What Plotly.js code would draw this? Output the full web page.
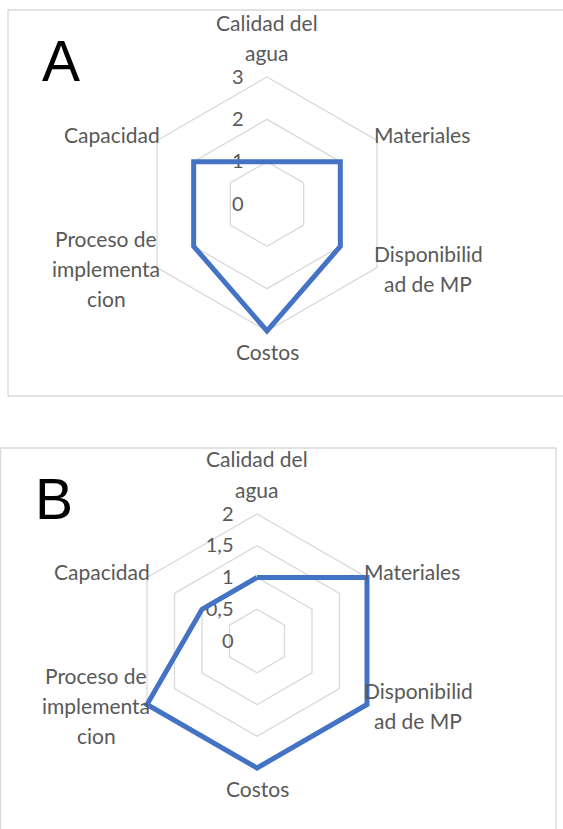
<!DOCTYPE html>
<html>
<head>
<meta charset="utf-8">
<script src="https://cdn.plot.ly/plotly-3.0.1.min.js"></script>
<style>html,body{margin:0;padding:0;background:#fff;}#chart{width:563px;height:829px;}</style>
</head>
<body>
<div id="chart"></div>
<script>
// ---- data ----
const categories = ['Calidad del agua', 'Materiales', 'Disponibilidad de MP', 'Costos', 'Proceso de implementacion', 'Capacidad'];
const categoryLines = [['Calidad del', 'agua'], ['Materiales'], ['Disponibilid', 'ad de MP'], ['Costos'], ['Proceso de', 'implementa', 'cion'], ['Capacidad']];
const valuesA = [1, 2, 2, 3, 2, 2];
const valuesB = [1, 2, 2, 2, 2, 1];
const radialTicksA = [0, 1, 2, 3];
const radialTicksB = [0, 0.5, 1, 1.5, 2];
const panelLabels = ['A', 'B'];

// ---- layout helpers ----
const W = 563, H = 829;
const px = x => x / W;
const py = y => 1 - y / H;
const TXT = '#595959', GRID = '#d9d9d9', BLUE = '#4472c4';
const FONT = 'Lato, "Open Sans", sans-serif';
const CAT_SIZE = 21, LINE_H = 30;
const PAD = 1.06; // extra radial room so the outer line is not clipped

const ctx = document.createElement('canvas').getContext('2d');
ctx.font = CAT_SIZE + 'px Lato';
const textW = s => ctx.measureText(s).width;

function closed(arr) { return arr.concat([arr[0]]); }

const traces = [
  {type: 'scatterpolar', subplot: 'polar', r: closed(valuesA), theta: closed(categories),
   mode: 'lines', line: {color: BLUE, width: 5}, cliponaxis: false, hoverinfo: 'skip'},
  {type: 'scatterpolar', subplot: 'polar2', r: closed(valuesB), theta: closed(categories),
   mode: 'lines', line: {color: BLUE, width: 5}, cliponaxis: false, hoverinfo: 'skip'}
];

function polarCfg(cx, cy, rad, rmax, ticks) {
  const R = rad * PAD;
  return {
    domain: {x: [px(cx - R), px(cx + R)], y: [py(cy + R), py(cy - R)]},
    gridshape: 'linear',
    bgcolor: 'rgba(0,0,0,0)',
    angularaxis: {
      type: 'category', categoryorder: 'array', categoryarray: categories,
      rotation: 90, direction: 'clockwise', layer: 'below traces',
      showgrid: false, showline: false,
      ticks: '', showticklabels: false
    },
    radialaxis: {
      range: [0, rmax * PAD], tickmode: 'array', tickvals: ticks, layer: 'below traces',
      angle: 90, side: 'counterclockwise', tickangle: 90,
      showline: false, gridcolor: GRID, gridwidth: 1.3,
      ticks: 'outside', ticklen: 16, tickcolor: 'rgba(0,0,0,0)',
      tickfont: {family: FONT, size: 20, color: TXT}
    }
  };
}

// category labels placed around each hexagon vertex (Excel-style centred wrapped text)
function categoryAnnotations(cx, cy, rad) {
  const out = [];
  categories.forEach((c, i) => {
    const ang = (90 - i * 60) * Math.PI / 180;
    const vx = cx + rad * Math.cos(ang), vy = cy - rad * Math.sin(ang);
    const lines = categoryLines[i];
    const n = lines.length;
    const maxW = Math.max(...lines.map(textW));
    let bx, by; // block centre
    if (Math.abs(Math.cos(ang)) < 1e-6) {
      bx = vx;
      by = vy > cy ? vy + 12 + n * LINE_H / 2 - 7 : vy - 10 - n * LINE_H / 2;
    } else {
      bx = vx > cx ? vx - 3 + maxW / 2 : vx + 3 - maxW / 2;
      by = vy < cy ? vy - 6 : vy + 1;
    }
    lines.forEach((t, k) => {
      out.push({text: t, xref: 'paper', yref: 'paper', x: px(bx), y: py(by + (k - (n - 1) / 2) * LINE_H),
        xanchor: 'center', yanchor: 'middle', showarrow: false,
        font: {family: FONT, size: CAT_SIZE, color: TXT}});
    });
  });
  return out;
}

const layout = {
  width: W, height: H,
  margin: {l: 0, r: 0, t: 0, b: 0},
  paper_bgcolor: '#fff',
  showlegend: false,
  separators: ', ',
  polar: polarCfg(267, 204, 127, 3, radialTicksA),
  polar2: polarCfg(257, 641, 127, 2, radialTicksB),
  shapes: [
    {type: 'rect', xref: 'paper', yref: 'paper', x0: px(8), x1: px(575), y0: py(396), y1: py(10),
     line: {color: GRID, width: 1.3}, fillcolor: 'rgba(0,0,0,0)', layer: 'below'},
    {type: 'rect', xref: 'paper', yref: 'paper', x0: px(0.6), x1: px(556), y0: py(840), y1: py(448),
     line: {color: GRID, width: 1.3}, fillcolor: 'rgba(0,0,0,0)', layer: 'below'}
  ],
  annotations: [
    {text: panelLabels[0], xref: 'paper', yref: 'paper', x: px(61), y: py(61), xanchor: 'center', yanchor: 'middle',
     showarrow: false, font: {family: 'Liberation Sans, Arial, sans-serif', size: 57, color: '#000'}},
    {text: panelLabels[1], xref: 'paper', yref: 'paper', x: px(54), y: py(499), xanchor: 'center', yanchor: 'middle',
     showarrow: false, font: {family: 'Liberation Sans, Arial, sans-serif', size: 57, color: '#000'}}
  ].concat(categoryAnnotations(267, 204, 127), categoryAnnotations(257, 641, 127))
};

Plotly.newPlot('chart', traces, layout, {staticPlot: true, displayModeBar: false});
</script>
</body>
</html>
